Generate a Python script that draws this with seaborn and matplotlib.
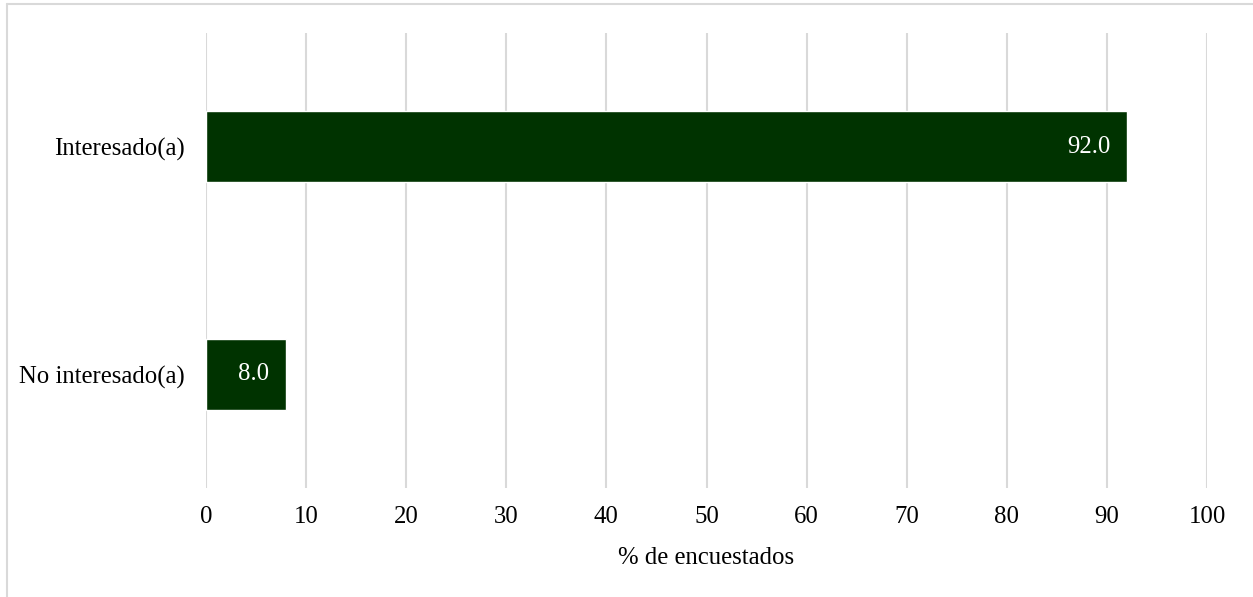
import matplotlib

matplotlib.use("Agg")

import matplotlib.pyplot as plt  # noqa: E402
import pandas as pd  # noqa: E402
import seaborn as sns  # noqa: E402
from matplotlib.lines import Line2D  # noqa: E402

categories = ["Interesado(a)", "No interesado(a)"]
percentages = [92.0, 8.0]
x_ticks = [0, 10, 20, 30, 40, 50, 60, 70, 80, 90, 100]

BAR_COLOR = "#003300"
GRID_COLOR = "#d9d9d9"
FONT = ["Liberation Serif", "DejaVu Serif"]
FS = 17.8

sns.set_theme(style="white")
plt.rcParams["font.family"] = FONT

df = pd.DataFrame({"categoria": categories, "pct": percentages})

W, H = 1253, 597
fig = plt.figure(figsize=(W / 100, H / 100), dpi=100)
ax = fig.add_axes([206 / W, 1 - 488 / H, (1207 - 206) / W, (488 - 33) / H])

sns.barplot(data=df, x="pct", y="categoria", orient="h", color=BAR_COLOR,
            width=0.31, saturation=1, ax=ax)

ax.set_xlim(0, 100)
ax.set_xticks(x_ticks)
ax.set_xticklabels([str(t) for t in x_ticks])
ax.xaxis.grid(True, color=GRID_COLOR, linewidth=1.5)
ax.yaxis.grid(False)
ax.set_axisbelow(True)
for s in ax.spines.values():
    s.set_visible(False)
ax.tick_params(axis="x", length=0, pad=13, labelsize=FS, colors="black")
ax.tick_params(axis="y", length=0, pad=15, labelsize=FS, colors="black")
ax.set_ylabel("")
ax.set_xlabel("% de encuestados", fontsize=FS, labelpad=14, color="black")

# value labels inside the end of each bar
for patch, val in zip(ax.patches, percentages):
    y = patch.get_y() + patch.get_height() / 2
    ax.annotate(f"{val:.1f}", xy=(patch.get_width(), y), xytext=(-12, 0),
                textcoords="offset points", ha="right", va="center",
                color="white", fontsize=FS)

# light frame at the top and left edges of the chart area
fig.add_artist(Line2D([6.5 / W, 1], [1 - 3.5 / H, 1 - 3.5 / H],
                      transform=fig.transFigure, color=GRID_COLOR, linewidth=1.5))
fig.add_artist(Line2D([6.5 / W, 6.5 / W], [0, 1 - 3.5 / H],
                      transform=fig.transFigure, color=GRID_COLOR, linewidth=1.5))

fig.savefig("out.png", dpi=100)
